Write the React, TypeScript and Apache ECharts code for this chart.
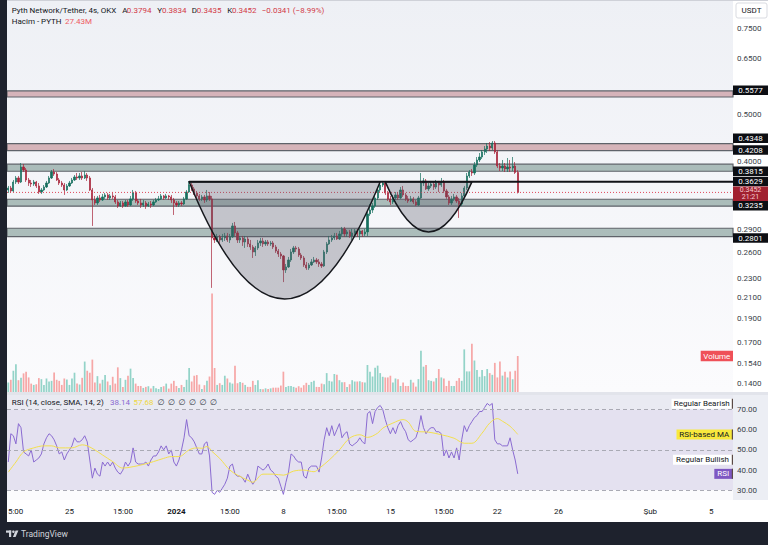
import React, { useEffect, useRef } from 'react';
import * as echarts from 'echarts';

// ---------- data (4h candles, PYTH/USDT, OKX) ----------
const START_OPEN = 0.3492;
const closes = [
  0.3525, 0.3476, 0.3626, 0.3696, 0.3626, 0.3893, 0.3838, 0.3661, 0.3609, 0.3592,
  0.3626, 0.3559, 0.3459, 0.3492, 0.3542, 0.3609, 0.3696, 0.3802, 0.3766, 0.3661,
  0.3609, 0.3575, 0.3492, 0.3559, 0.3609, 0.3661, 0.3713, 0.3696, 0.3731, 0.3696,
  0.3748, 0.3696, 0.3492, 0.3331, 0.3284, 0.3363, 0.3331, 0.3379, 0.3411, 0.3363,
  0.3395, 0.3379, 0.3300, 0.3238, 0.3284, 0.3238, 0.3300, 0.3253, 0.3347, 0.3443,
  0.3315, 0.3284, 0.3253, 0.3284, 0.3238, 0.3269, 0.3253, 0.3300, 0.3331, 0.3347,
  0.3395, 0.3363, 0.3395, 0.3379, 0.3331, 0.3284, 0.3253, 0.3284, 0.3269, 0.3347,
  0.3459, 0.3575, 0.3509, 0.3443, 0.3395, 0.3347, 0.3379, 0.3331, 0.3395, 0.3347,
  0.2784, 0.2757, 0.2797, 0.2757, 0.2784, 0.2810, 0.2757, 0.2797, 0.2946, 0.2850,
  0.2757, 0.2784, 0.2731, 0.2770, 0.2706, 0.2667, 0.2605, 0.2655, 0.2718, 0.2744,
  0.2706, 0.2731, 0.2706, 0.2718, 0.2667, 0.2617, 0.2580, 0.2556, 0.2393, 0.2427,
  0.2508, 0.2605, 0.2655, 0.2642, 0.2568, 0.2532, 0.2450, 0.2415, 0.2450, 0.2485,
  0.2508, 0.2485, 0.2461, 0.2438, 0.2605, 0.2706, 0.2757, 0.2784, 0.2810, 0.2770,
  0.2837, 0.2905, 0.2837, 0.2864, 0.2810, 0.2850, 0.2877, 0.2837, 0.2877, 0.2837,
  0.2864, 0.3118, 0.3177, 0.3238, 0.3363, 0.3492, 0.3575, 0.3609, 0.3443, 0.3347,
  0.3300, 0.3363, 0.3411, 0.3363, 0.3492, 0.3411, 0.3347, 0.3315, 0.3347, 0.3300,
  0.3253, 0.3363, 0.3609, 0.3644, 0.3509, 0.3559, 0.3592, 0.3542, 0.3609, 0.3575,
  0.3626, 0.3476, 0.3379, 0.3284, 0.3347, 0.3379, 0.3315, 0.3269, 0.3395, 0.3525,
  0.3731, 0.3802, 0.3784, 0.3930, 0.4024, 0.4081, 0.4179, 0.4239, 0.4299, 0.4259,
  0.4361, 0.4179, 0.3911, 0.3874, 0.3911, 0.3856, 0.3893, 0.3874, 0.3911, 0.3794,
  0.3452,
];
const highs = [
  0.3559, 0.3559, 0.3661, 0.3731, 0.3731, 0.3967, 0.3948, 0.3874, 0.3696, 0.3661,
  0.3661, 0.3644, 0.3609, 0.3525, 0.3575, 0.3644, 0.3731, 0.3838, 0.3856, 0.3802,
  0.3696, 0.3644, 0.3609, 0.3592, 0.3644, 0.3696, 0.3748, 0.3784, 0.3784, 0.3802,
  0.3820, 0.3784, 0.3731, 0.3525, 0.3395, 0.3395, 0.3411, 0.3427, 0.3443, 0.3443,
  0.3427, 0.3459, 0.3411, 0.3331, 0.3315, 0.3315, 0.3331, 0.3331, 0.3395, 0.3492,
  0.3476, 0.3347, 0.3347, 0.3331, 0.3315, 0.3300, 0.3315, 0.3331, 0.3363, 0.3395,
  0.3427, 0.3411, 0.3427, 0.3411, 0.3411, 0.3363, 0.3315, 0.3315, 0.3315, 0.3379,
  0.3492, 0.3626, 0.3609, 0.3542, 0.3476, 0.3427, 0.3411, 0.3411, 0.3492, 0.3459,
  0.3395, 0.2823, 0.2837, 0.2823, 0.2837, 0.2850, 0.2850, 0.2837, 0.2988, 0.3002,
  0.2877, 0.2810, 0.2810, 0.2810, 0.2797, 0.2757, 0.2693, 0.2680, 0.2757, 0.2784,
  0.2784, 0.2757, 0.2757, 0.2744, 0.2744, 0.2693, 0.2642, 0.2605, 0.2568, 0.2461,
  0.2544, 0.2642, 0.2680, 0.2680, 0.2667, 0.2593, 0.2556, 0.2485, 0.2473, 0.2520,
  0.2544, 0.2532, 0.2520, 0.2485, 0.2630, 0.2731, 0.2810, 0.2823, 0.2850, 0.2850,
  0.2877, 0.2932, 0.2932, 0.2891, 0.2891, 0.2905, 0.2905, 0.2905, 0.2905, 0.2891,
  0.2905, 0.3148, 0.3269, 0.3284, 0.3395, 0.3525, 0.3609, 0.3644, 0.3644, 0.3476,
  0.3395, 0.3411, 0.3459, 0.3459, 0.3542, 0.3559, 0.3443, 0.3395, 0.3395, 0.3379,
  0.3331, 0.3395, 0.3784, 0.3696, 0.3678, 0.3609, 0.3644, 0.3626, 0.3661, 0.3644,
  0.3696, 0.3661, 0.3509, 0.3411, 0.3395, 0.3427, 0.3411, 0.3363, 0.3443, 0.3559,
  0.3784, 0.3838, 0.3856, 0.3986, 0.4081, 0.4159, 0.4219, 0.4299, 0.4361, 0.4381,
  0.4402, 0.4402, 0.4219, 0.3967, 0.4024, 0.3967, 0.4062, 0.4024, 0.4081, 0.3986,
  0.3834,
];
const lows = [
  0.3443, 0.3443, 0.3459, 0.3592, 0.3592, 0.3609, 0.3802, 0.3626, 0.3559, 0.3542,
  0.3559, 0.3525, 0.3427, 0.3427, 0.3476, 0.3525, 0.3592, 0.3678, 0.3731, 0.3644,
  0.3575, 0.3542, 0.3411, 0.3476, 0.3542, 0.3592, 0.3644, 0.3661, 0.3661, 0.3661,
  0.3678, 0.3644, 0.3476, 0.2946, 0.3253, 0.3253, 0.3300, 0.3315, 0.3347, 0.3331,
  0.3331, 0.3347, 0.3269, 0.3208, 0.3223, 0.3208, 0.3223, 0.3223, 0.3238, 0.3315,
  0.3284, 0.3253, 0.3208, 0.3223, 0.3193, 0.3223, 0.3208, 0.3238, 0.3284, 0.3315,
  0.3331, 0.3331, 0.3347, 0.3331, 0.3284, 0.3103, 0.3223, 0.3223, 0.3238, 0.3253,
  0.3331, 0.3443, 0.3476, 0.3411, 0.3363, 0.3315, 0.3315, 0.3284, 0.3300, 0.3315,
  0.2198, 0.2718, 0.2731, 0.2718, 0.2731, 0.2744, 0.2731, 0.2718, 0.2784, 0.2810,
  0.2718, 0.2718, 0.2680, 0.2655, 0.2667, 0.2630, 0.2532, 0.2556, 0.2630, 0.2680,
  0.2667, 0.2680, 0.2680, 0.2680, 0.2642, 0.2593, 0.2544, 0.2520, 0.2259, 0.2359,
  0.2415, 0.2485, 0.2580, 0.2605, 0.2544, 0.2508, 0.2427, 0.2393, 0.2393, 0.2438,
  0.2473, 0.2461, 0.2427, 0.2415, 0.2427, 0.2580, 0.2693, 0.2731, 0.2757, 0.2757,
  0.2757, 0.2810, 0.2797, 0.2797, 0.2784, 0.2757, 0.2810, 0.2797, 0.2757, 0.2797,
  0.2810, 0.2810, 0.3089, 0.3133, 0.3208, 0.3331, 0.3459, 0.3542, 0.3411, 0.3315,
  0.3253, 0.3269, 0.3331, 0.3331, 0.3347, 0.3379, 0.3315, 0.3284, 0.3300, 0.3269,
  0.3238, 0.3238, 0.3347, 0.3559, 0.3492, 0.3476, 0.3525, 0.3492, 0.3509, 0.3459,
  0.3542, 0.3443, 0.3347, 0.3253, 0.3253, 0.3315, 0.3284, 0.3060, 0.3238, 0.3363,
  0.3492, 0.3696, 0.3731, 0.3748, 0.3893, 0.3986, 0.4043, 0.4120, 0.4159, 0.4199,
  0.4219, 0.4140, 0.3874, 0.3820, 0.3820, 0.3802, 0.3802, 0.3802, 0.3820, 0.3766,
  0.3435,
];
// volume, millions of PYTH
const volumes = [
  7.2, 9.3, 16.2, 21.1, 9.0, 10.8, 14.2, 15.5, 11.1, 6.4,
  5.4, 5.9, 10.6, 9.8, 5.4, 10.3, 8.0, 8.5, 14.9, 9.3,
  8.5, 5.4, 10.3, 9.5, 5.4, 10.3, 14.7, 6.4, 5.7, 10.8,
  23.2, 16.2, 14.7, 24.7, 7.2, 12.1, 6.4, 9.3, 12.9, 8.0,
  5.2, 11.6, 6.4, 18.8, 10.6, 3.9, 9.3, 12.4, 17.8, 10.6,
  6.4, 4.6, 4.6, 3.1, 3.9, 4.4, 2.6, 4.6, 2.8, 2.3,
  3.9, 4.4, 6.4, 2.6, 6.4, 8.5, 4.6, 3.1, 5.4, 3.9,
  9.3, 18.3, 8.0, 12.4, 12.9, 5.7, 2.3, 5.2, 8.5, 11.8,
  75.0, 18.3, 5.4, 6.7, 5.4, 12.4, 10.3, 7.2, 6.4, 20.1,
  6.7, 7.7, 7.0, 5.4, 3.9, 3.9, 8.5, 5.4, 9.0, 2.3,
  2.1, 2.8, 2.3, 2.8, 3.3, 3.3, 3.3, 4.9, 15.5, 3.9,
  4.6, 4.6, 3.9, 3.3, 4.4, 3.3, 5.2, 7.0, 5.4, 7.7,
  8.5, 3.9, 3.9, 6.4, 5.9, 14.4, 8.5, 8.0, 13.7, 13.1,
  9.0, 7.5, 7.5, 3.9, 5.9, 9.0, 8.0, 8.0, 8.2, 7.5,
  7.2, 20.6, 15.5, 11.8, 18.5, 20.1, 14.4, 11.6, 11.1, 11.1,
  12.4, 7.2, 10.3, 9.8, 4.6, 7.2, 4.6, 4.6, 9.3, 7.2,
  4.1, 9.8, 31.4, 19.3, 20.6, 9.0, 8.5, 8.0, 10.6, 17.5,
  11.1, 10.3, 4.6, 8.5, 4.6, 4.6, 8.5, 10.6, 8.5, 32.5,
  15.7, 15.7, 36.8, 24.0, 16.7, 11.6, 16.7, 12.1, 17.5, 14.4,
  13.1, 22.2, 11.1, 23.2, 12.5, 15.5, 11.1, 15.7, 9.8, 16.2,
  27.43,
];
const rsiValues = [
  44, 58, 57, 53, 63, 61, 49, 48, 47, 50,
  44, 45, 46, 48, 53, 56, 58, 57, 55, 52,
  48, 49, 45, 48, 50, 52, 56, 54, 54, 55,
  57, 54, 45, 36, 41, 38, 37, 44, 42, 44,
  42, 44, 41, 39, 38, 40, 44, 42, 44, 51,
  44, 43, 43, 43, 44, 42, 45, 47, 47, 49,
  52, 50, 52, 48, 50, 44, 42, 45, 50, 56,
  65, 57, 56, 54, 51, 48, 48, 53, 54, 47,
  29, 28, 30, 29, 31, 33, 36, 42, 43, 38,
  37, 37, 36, 34, 38, 35, 33, 35, 42, 41,
  40, 41, 43, 40, 39, 37, 36, 32, 28, 34,
  39, 48, 47, 45, 44, 44, 37, 36, 41, 42,
  42, 42, 39, 46, 55, 61, 57, 62, 57, 60,
  63, 56, 58, 59, 53, 52, 53, 54, 56, 54,
  53, 68, 69, 63, 69, 71, 72, 70, 65, 61,
  58, 61, 58, 62, 64, 61, 59, 55, 54, 55,
  56, 60, 67, 61, 58, 60, 61, 61, 59, 59,
  58, 47, 50, 46, 49, 46, 51, 45, 55, 62,
  59, 62, 64, 66, 67, 69, 69, 71, 73, 72,
  73, 55, 53, 53, 52, 52, 52, 56, 50, 45,
  38.14,
];
// RSI-based MA (SMA 14), read at [candle index, value]
const rsiMaPoints = [
  [0, 39], [3, 44], [6, 49], [10, 51], [14, 52], [17, 52], [20, 51], [25, 51], [29, 52.5],
  [31, 52], [34, 50], [37, 47.5], [41, 44.2], [45, 41], [49, 41.7], [53, 42.8], [57, 44.2],
  [61, 45.8], [64, 46.7], [67, 46.7], [71, 50], [74, 51], [76, 50.8], [78, 51.7], [80, 49.2],
  [83, 45.8], [87, 40], [90, 37.5], [94, 35], [96, 34], [100, 38], [104, 38], [108, 37.5],
  [112, 39.5], [116, 40], [120, 39.2], [122, 40.8], [126, 45], [130, 50], [134, 55.8],
  [138, 57.5], [141, 56.2], [145, 58.3], [147, 60.8], [151, 63.3], [155, 65], [157, 63.8],
  [160, 59.2], [165, 58.8], [170, 57.5], [175, 55.8], [179, 53.3], [182, 53.3], [186, 58.3],
  [189, 63.3], [192, 65.5], [194, 64.2], [197, 61.7], [200, 57.68],
];
const priceTicks = [0.75, 0.65, 0.5, 0.4, 0.29, 0.26, 0.23, 0.21, 0.19, 0.17, 0.154, 0.14];
const rsiTicks = [30, 40, 50, 60, 70];
const timeTicks: [number, string][] = [
  [2, '15:00'], [24, '25'], [45, '15:00'], [66, '2024'], [87, '15:00'], [108, '8'],
  [129, '15:00'], [150, '15'], [171, '15:00'], [192, '22'], [216, '26'], [252, 'Şub'], [276, '5'],
];
const pinkZones = [[0.542, 0.5577], [0.4208, 0.4348]];
const greenZones = [[0.3815, 0.3945], [0.3235, 0.3342], [0.2801, 0.2914]];
// [left index, right index, bottom price, rim price]
const cupShapes = [[71, 146, 0.2086, 0.3629], [148, 182, 0.2864, 0.3629]];
const rimLine = [71, 0.3629];
const lastPrice = 0.3452;
const priceLabels: { text: string; price: number; dy: number }[] = [
  { text: '0.5577', price: 0.5577, dy: -0.6 },
  { text: '0.4348', price: 0.4348, dy: -5.3 },
  { text: '0.4208', price: 0.4208, dy: -0.5 },
  { text: '0.3815', price: 0.3815, dy: 0 },
  { text: '0.3629', price: 0.3629, dy: -0.4 },
  { text: '0.3235', price: 0.3235, dy: -0.4 },
  { text: '0.2801', price: 0.2801, dy: 1.5 },
];

const N_CATS = 285;
const START_MS = Date.UTC(2023, 11, 21, 0, 0); // 21 Dec 03:00 (UTC+3)
const categories = Array.from({ length: N_CATS }, (_, i) =>
  new Date(START_MS + i * 4 * 3600e3).toISOString().slice(0, 16)
);

const FONT = 'Roboto, "Noto Sans", "DejaVu Sans", sans-serif';
const UP = '#17705e';
const DOWN = '#a8243a';
const L = (p: number) => Math.log10(p);
const opens = closes.map((c, i) => (i === 0 ? START_OPEN : closes[i - 1]));

function txt(x: number, y: number, t: string, fill: string, o: any = {}) {
  const size = o.size || 8;
  const weight = o.weight || 'normal';
  const align = o.align || 'left';
  const style: any = {
    text: t, fill, font: `${weight} ${size}px ${FONT}`,
    align, verticalAlign: 'middle', textAlign: align, textVerticalAlign: 'middle',
  };
  if (o.lineHeight) style.lineHeight = o.lineHeight;
  return { type: 'text', x, y, z: o.z || 100, silent: true, style };
}
function rect(x: number, y: number, w: number, h: number, fill: any, o: any = {}) {
  return {
    type: 'rect', z: o.z ?? 100, silent: true,
    shape: { x, y, width: w, height: h, r: o.r || 0 },
    style: { fill, stroke: o.stroke || null, lineWidth: o.lw || 0 },
  };
}
const fmt = (v: any, d: number) => (typeof v === 'number' ? v.toFixed(d) : String(v ?? ''));

export default function App() {
  const ref = useRef<HTMLDivElement>(null);
  useEffect(() => {
    document.body.style.margin = '0';
    const chart = echarts.init(ref.current!, null, { renderer: 'svg', width: 768, height: 545 });
    const tickMap = new Map(timeTicks);
    const candleData = closes.map((c, i) => [L(opens[i]), L(c), L(lows[i]), L(highs[i])]);
    const volData = volumes.map((v, i) => ({
      value: v,
      itemStyle: { color: closes[i] >= opens[i] ? '#93d3c8' : '#f6a7a7' },
    }));
    const zone = (z: number[], fill: string) => [
      { yAxis: L(z[0]), itemStyle: { color: fill, borderColor: '#5f636a', borderWidth: 1.2 } },
      { yAxis: L(z[1]) },
    ];
    const hLine = (stroke: string, width: number, dash: number[] | null, fromIndex: boolean) =>
      (params: any, api: any) => {
        const p = api.coord([api.value(0), api.value(1)]);
        const cs = params.coordSys;
        return {
          type: 'line',
          shape: { x1: fromIndex ? p[0] : cs.x, y1: p[1], x2: cs.x + cs.width, y2: p[1] },
          style: { stroke, lineWidth: width, lineDash: dash || undefined },
        };
      };
    const option: any = {
      animation: false,
      backgroundColor: '#ffffff',
      textStyle: { fontFamily: FONT },
      grid: [
        { left: 7, right: 35, top: 1, height: 391 },
        { left: 7, right: 35, top: 395, height: 105 },
      ],
      xAxis: [
        {
          type: 'category', gridIndex: 0, data: categories,
          axisLine: { show: false }, axisTick: { show: false }, axisLabel: { show: false }, splitLine: { show: false },
        },
        {
          type: 'category', gridIndex: 1, data: categories,
          axisLine: { show: false }, axisTick: { show: false }, splitLine: { show: false },
          axisLabel: {
            interval: (idx: number) => tickMap.has(idx),
            formatter: (_v: string, idx: number) => {
              const t = tickMap.get(idx) || '';
              return t === '2024' ? '{b|2024}' : t;
            },
            fontSize: 8, color: '#131722', margin: 7,
            rich: { b: { fontWeight: 'bold', fontSize: 8, color: '#131722' } },
          },
        },
      ],
      yAxis: [
        {
          type: 'value', gridIndex: 0, position: 'right', min: -0.871756, max: -0.068882,
          splitLine: { show: false }, axisLine: { show: false }, axisTick: { show: false },
          axisLabel: {
            customValues: priceTicks.map(L),
            formatter: (v: any) => fmt(Math.pow(10, Number(v)), 4),
            fontSize: 8, color: '#3b3f4a', margin: 4, align: 'left',
          },
        },
        { type: 'value', gridIndex: 0, min: 0, max: 298, show: false },
        {
          type: 'value', gridIndex: 1, position: 'right', min: 25.2, max: 77.18,
          splitLine: { show: false }, axisLine: { show: false }, axisTick: { show: false },
          axisLabel: {
            customValues: rsiTicks, formatter: (v: any) => fmt(Number(v), 2),
            fontSize: 8, color: '#3b3f4a', margin: 4, align: 'left',
          },
        },
      ],
      series: [
        {
          type: 'bar', name: 'Volume', xAxisIndex: 0, yAxisIndex: 1, data: volData,
          barWidth: '68%', z: 2, silent: true,
        },
        {
          type: 'candlestick', name: 'PYTH', xAxisIndex: 0, yAxisIndex: 0, data: candleData,
          barWidth: '68%', z: 3, silent: true,
          itemStyle: { color: UP, color0: DOWN, borderColor: UP, borderColor0: DOWN, borderWidth: 0.7 },
          markArea: {
            silent: true,
            data: [
              ...pinkZones.map((z) => zone(z, 'rgba(160,60,70,0.35)')),
              ...greenZones.map((z) => zone(z, 'rgba(70,110,100,0.42)')),
            ],
          },
        },
        {
          type: 'custom', name: 'Last price', xAxisIndex: 0, yAxisIndex: 0, z: 4, silent: true,
          encode: { x: 0, y: 1 },
          data: [[0, L(lastPrice)]],
          renderItem: hLine('#e0485a', 1, [1, 2], false),
        },
        {
          type: 'custom', name: 'Cup', xAxisIndex: 0, yAxisIndex: 0, z: 4, silent: true, clip: true,
          encode: { x: 0, y: 3 },
          data: cupShapes.map((c) => [c[0], c[1], L(c[2]), L(c[3])]),
          renderItem: (_params: any, api: any) => {
            const pL = api.coord([api.value(0), api.value(3)]);
            const pR = api.coord([api.value(1), api.value(3)]);
            const pB = api.coord([api.value(0), api.value(2)]);
            const cx = (pL[0] + pR[0]) / 2;
            const cy = 2 * pB[1] - pL[1];
            return {
              type: 'path',
              shape: { pathData: `M${pL[0]} ${pL[1]} Q${cx} ${cy} ${pR[0]} ${pR[1]} Z` },
              style: { fill: 'rgba(90,90,105,0.32)', stroke: '#16181d', lineWidth: 1.5 },
            };
          },
        },
        {
          type: 'custom', name: 'Rim', xAxisIndex: 0, yAxisIndex: 0, z: 5, silent: true,
          encode: { x: 0, y: 1 },
          data: [[rimLine[0], L(rimLine[1])]],
          renderItem: hLine('#101217', 2, null, true),
        },
        {
          type: 'line', name: 'RSI', xAxisIndex: 1, yAxisIndex: 2, data: rsiValues,
          showSymbol: false, silent: true, z: 3,
          lineStyle: { color: '#8a6bd1', width: 1 },
          markArea: {
            silent: true,
            data: [
              [{ yAxis: 70, itemStyle: { color: '#e9eaf2' } }, { yAxis: 77.18 }],
              [{ yAxis: 30, itemStyle: { color: '#e4e1f0' } }, { yAxis: 70 }],
              [{ yAxis: 25.2, itemStyle: { color: '#fbfbfd' } }, { yAxis: 30 }],
            ],
          },
          markLine: {
            silent: true, symbol: ['none', 'none'], label: { show: false },
            lineStyle: { type: [4, 3], color: '#a9aab4', width: 1 },
            data: [{ yAxis: 70 }, { yAxis: 50 }, { yAxis: 30 }],
          },
        },
        {
          type: 'line', name: 'RSI-based MA', xAxisIndex: 1, yAxisIndex: 2, data: rsiMaPoints,
          showSymbol: false, silent: true, smooth: 0.35, z: 3,
          lineStyle: { color: '#f2df4f', width: 1 },
        },
      ],
    };
    chart.setOption(option);

    const py = (v: number, axis: number) => chart.convertToPixel({ yAxisIndex: axis } as any, v) as number;
    const last = closes.length - 1;
    const g: any[] = [];
    // backgrounds
    g.push(rect(7, 0, 726, 392, new echarts.graphic.LinearGradient(0, 0, 0, 1, [
      { offset: 0, color: '#eef0f5' }, { offset: 1, color: '#fbfbfd' },
    ]), { z: -10 }));
    g.push(rect(733, 0, 35, 392, '#ffffff', { z: -10 }));
    g.push(rect(733, 395, 35, 105, '#eceef4', { z: -10 }));
    g.push(rect(7, 392, 761, 3, '#e2e4eb', { z: -9 }));
    g.push(rect(7, 500, 761, 22, '#ffffff', { z: -10 }));
    g.push(rect(7, 0, 761, 1, '#cfd1d8', { z: 90 }));
    // header
    g.push(txt(11.7, 10.5, 'Pyth Network/Tether, 4s, OKX', '#131722'));
    const red = '#d23a48';
    const ohlc: [string, number, number, number][] = [
      ['A', opens[last], 122.3, 126.8], ['Y', highs[last], 157.3, 162],
      ['D', lows[last], 191.7, 196.8], ['K', closes[last], 227.3, 232],
    ];
    ohlc.forEach(([k, v, x1, x2]) => {
      g.push(txt(x1, 10.5, k, '#131722'));
      g.push(txt(x2, 10.5, fmt(v, 4), red));
    });
    g.push(txt(261.7, 10.5, '−0.0341 (−8.99%)', red));
    g.push(txt(11.7, 21.5, 'Hacim - PYTH', '#131722'));
    g.push(txt(65, 21.5, fmt(volumes[last], 2) + 'M', '#ee5a64'));
    // RSI header
    const maLast = rsiMaPoints[rsiMaPoints.length - 1][1];
    g.push(txt(11.7, 402.3, 'RSI (14, close, SMA, 14, 2)', '#131722'));
    g.push(txt(110, 402.3, fmt(rsiValues[last], 2), '#8a6bd1'));
    g.push(txt(133.5, 402.3, fmt(maLast, 2), '#efd840'));
    for (let k = 0; k < 6; k++) g.push(txt(157.5 + k * 10.5, 402.3, '∅', '#2a2e39'));
    // USDT box
    g.push(rect(736, 3, 31, 15, '#ffffff', { stroke: '#d9dbe1', lw: 1, r: 2 }));
    g.push(txt(751.5, 10.8, 'USDT', '#131722', { align: 'center' }));
    // price labels
    priceLabels.forEach((p) => {
      const y = py(L(p.price), 0) + p.dy;
      g.push(rect(733, y - 4.75, 35, 9.5, '#0c0e13'));
      g.push(txt(750.5, y, p.text, '#ffffff', { align: 'center', z: 101 }));
    });
    const yl = py(L(lastPrice), 0);
    g.push(rect(733, yl - 5.9, 35, 14.6, '#a1202f', { z: 102 }));
    g.push(txt(750.5, yl + 1.4, fmt(lastPrice, 4) + '\n21:21', '#f7cdd2',
      { align: 'center', z: 103, size: 7, lineHeight: 7 }));
    // volume label
    const yv = py(volumes[last], 1);
    g.push(rect(700.7, yv - 5.2, 32.3, 10.4, '#ef5058'));
    g.push(txt(716.8, yv, 'Volume', '#ffffff', { align: 'center', z: 101 }));
    // RSI pane labels
    const rsiLab = (val: number, x: number, text: string, fill: string, col: string) => {
      const y = py(val, 2);
      g.push(rect(x, y - 5, 733 - x, 10, fill));
      g.push(rect(731.8, y - 5, 1.2, 10, '#5b4a46', { z: 101 }));
      g.push(txt((x + 732) / 2, y, text, col, { align: 'center', z: 101 }));
    };
    rsiLab(72.8, 671.5, 'Regular Bearish', '#ffffff', '#131722');
    rsiLab(maLast, 676.5, 'RSI-based MA', '#f8e93c', '#131722');
    rsiLab(45.1, 673, 'Regular Bullish', '#ffffff', '#131722');
    rsiLab(rsiValues[last], 714.3, 'RSI', '#7e57c2', '#ffffff');
    // frame: left strip + bottom bar with logo
    g.push(rect(0, 0, 7, 545, '#1e222d', { z: 120 }));
    g.push(rect(0, 522, 768, 23, '#1e222d', { z: 120 }));
    g.push(rect(6, 530.5, 5.2, 2.2, '#d1d4dc', { z: 121 }));
    g.push(rect(9, 530.5, 2.2, 6.5, '#d1d4dc', { z: 121 }));
    g.push({ type: 'circle', z: 121, silent: true, shape: { cx: 13.4, cy: 531.7, r: 1.25 }, style: { fill: '#d1d4dc' } });
    g.push({
      type: 'polygon', z: 121, silent: true,
      shape: { points: [[15.6, 530.5], [18.4, 530.5], [15.6, 537], [12.9, 537]] },
      style: { fill: '#d1d4dc' },
    });
    g.push(txt(21, 533.8, 'TradingView', '#d1d4dc', { size: 8.5, z: 121 }));
    chart.setOption({ graphic: g });
    return () => chart.dispose();
  }, []);
  return <div ref={ref} style={{ width: 768, height: 545 }} />;
}
